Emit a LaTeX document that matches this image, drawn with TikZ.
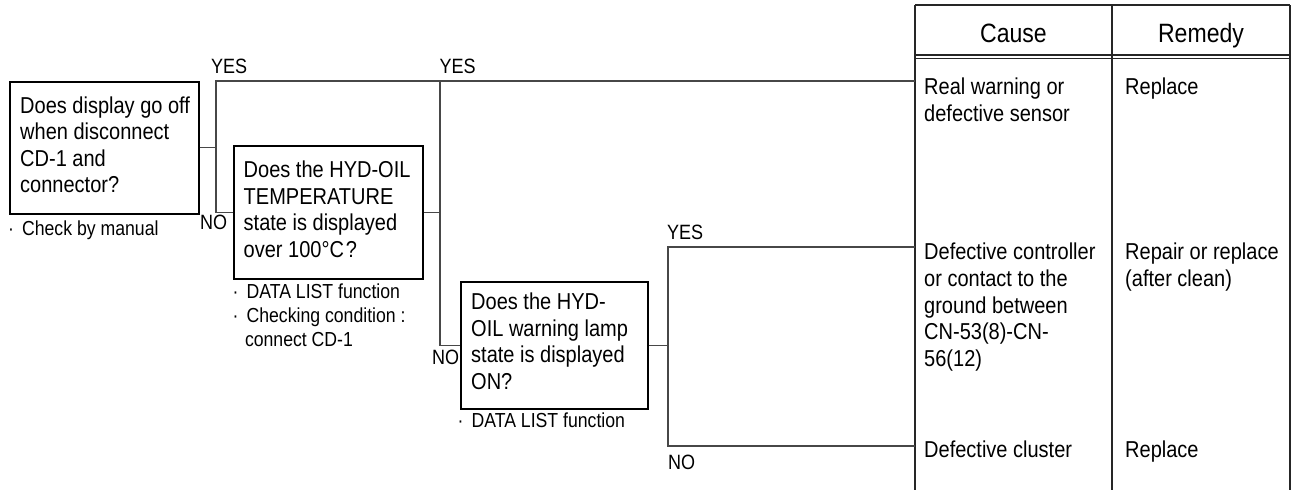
\documentclass[tikz,border=0pt]{standalone}
\usepackage{fontspec}
\setmainfont[FakeStretch=0.87]{Liberation Sans}
\newcommand\mybul{·\hspace{8pt}}
\begin{document}
\begin{tikzpicture}[x=1pt,y=-1pt,
  qbox/.style={draw=black, line width=1.7pt, rectangle, inner sep=0pt, anchor=north west},
  qtext/.style={align=left, inner sep=0pt, anchor=west, font=\fontsize{23}{26.6}\selectfont},
  note/.style={align=left, inner sep=0pt, anchor=north west, font=\fontsize{20.3}{23.8}\selectfont},
  lbl/.style={inner sep=0pt, anchor=base west, font=\fontsize{20.7}{22}\selectfont},
  conn/.style={draw=black!72, line width=1.2pt},
  tline/.style={draw=black!85, line width=1.5pt},
  cell/.style={align=left, inner sep=0pt, anchor=north west, font=\fontsize{23}{26.6}\selectfont},
  head/.style={inner sep=0pt, anchor=base, font=\fontsize{26.5}{28}\selectfont}]
\useasboundingbox (0,0) rectangle (1296,490);

% question boxes
\node[qbox, minimum width=189pt, minimum height=132pt] (q1) at (9,81) {};
\node[qtext] (t1) at ([xshift=11pt,yshift=3pt]q1.west) {Does display go off\\when disconnect\\CD-1 and\\connector?};
\node[qbox, minimum width=189pt, minimum height=133pt] (q2) at (233,145) {};
\node[qtext] (t2) at ([xshift=10.5pt,yshift=3pt]q2.west) {Does the HYD-OIL\\TEMPERATURE\\state is displayed\\over 100°C\hspace{2pt}?};
\node[qbox, minimum width=187pt, minimum height=127pt] (q3) at (460,281) {};
\node[qtext] (t3) at ([xshift=11pt,yshift=4pt]q3.west) {Does the HYD-\\OIL warning lamp\\state is displayed\\ON?};

% notes
\node[note] (n1) at (8,221) {\mybul Check by manual};
\node[note] (n2) at (232.5,284) {\mybul DATA LIST function\\\mybul Checking condition :\\\hspace{12.3pt}connect CD-1};
\node[note] (n3) at (457.5,413) {\mybul DATA LIST function};

% labels
\node[lbl] (y1) at (211,73) {YES};
\node[lbl] (y2) at (439.5,73) {YES};
\node[lbl] (no1) at (200,229) {NO};
\node[lbl] (no2) at (432,364) {NO};
\node[lbl] (y3) at (667,239.5) {YES};
\node[lbl] (no3) at (668,469) {NO};

% table
\draw[tline] (915,5) -- (1290,5);
\draw[tline] (915,5) -- (915,490);
\draw[tline] (1112,5) -- (1112,490);
\draw[tline] (1290,5) -- (1290,490);
\draw[tline] (915,55) -- (1290,55);
\draw[draw=black!85, line width=1pt] (915,58.5) -- (1290,58.5);
\node[head] (h1) at (1013.5,42) {Cause};
\node[head] (h2) at (1201,42) {Remedy};

\node[cell] (c1) at (924,78) {Real warning or\\defective sensor};
\node[cell] (d1) at (1125,78) {Replace};
\node[cell] (c2) at (924,243) {Defective controller\\or contact to the\\ground between\\CN-53(8)-CN-\\56(12)};
\node[cell] (d2) at (1125,243) {Repair or replace\\(after clean)};
\node[cell] (c3) at (924,441) {Defective cluster};
\node[cell] (d3) at (1125,441) {Replace};

% connectors
\coordinate (j1) at (216,81);
\coordinate (j2) at (440,81);
\coordinate (r1) at (915,81);
\coordinate (j3t) at (668,247);
\coordinate (j3b) at (668,446);
\coordinate (r2) at (915,247);
\coordinate (r3) at (915,446);
\draw[conn] (q1.east) -- (q1.east -| j1);
\draw[conn] (q2.west) -| (j1) -- (r1);
\draw[conn] (q2.east) -- (q2.east -| j2);
\draw[conn] (j2) |- (q3.west);
\draw[conn] (q3.east) -- (q3.east -| j3t);
\draw[conn] (r2) -- (j3t) -- (j3b) -- (r3);
\end{tikzpicture}
\end{document}
